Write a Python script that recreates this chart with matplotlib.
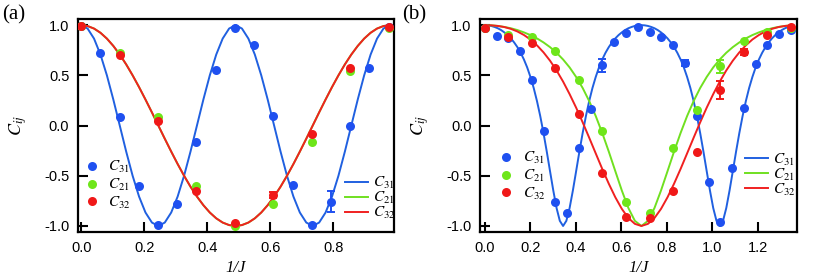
import numpy as np
import matplotlib
matplotlib.use("Agg")
import matplotlib.pyplot as plt
from matplotlib.lines import Line2D

plt.rcParams['font.family'] = ['Liberation Sans', 'DejaVu Sans']
plt.rcParams['mathtext.fontset'] = 'stix'
plt.rcParams['axes.unicode_minus'] = False

# ---------- Colores ----------
c_blue, c_green, c_red = '#1f50f0', '#6ee61a', '#f01818'
l_blue, l_green, l_red = '#2060e0', '#70e020', '#f02020'

# ---------- Datos panel (a) ----------
x_a = [0.0, 0.061, 0.122, 0.183, 0.244, 0.305, 0.366, 0.427, 0.488, 0.549,
       0.610, 0.671, 0.732, 0.793, 0.854, 0.915, 0.976]
c31_a = [0.99, 0.718, 0.085, -0.605, -0.99, -0.778, -0.16, 0.552, 0.967, 0.80,
         0.095, -0.59, -0.99, -0.76, 0.0, 0.575, 0.977]
c31_a_err = [0, 0, 0, 0, 0, 0, 0, 0, 0, 0, 0, 0, 0, 0.105, 0, 0, 0]

x2_a = [0.0, 0.122, 0.244, 0.366, 0.488, 0.610, 0.732, 0.854, 0.976]
c21_a = [0.99, 0.72, 0.09, -0.60, -1.0, -0.78, -0.16, 0.54, 0.967]
c32_a = [0.99, 0.705, 0.047, -0.65, -0.973, -0.69, -0.085, 0.57, 0.977]
c32_a_err = [0, 0, 0, 0, 0, 0.03, 0, 0, 0]

# curvas teóricas (a), muestreadas sobre 0..0.98
t_a = np.linspace(0, 0.98, 49)
fit31_a = [1.0, 0.966, 0.866, 0.707, 0.5, 0.259, 0.0, -0.259, -0.5, -0.707, -0.866, -0.966, -1.0,
           -0.966, -0.866, -0.707, -0.5, -0.259, 0.0, 0.259, 0.5, 0.707, 0.866, 0.966, 1.0,
           0.966, 0.866, 0.707, 0.5, 0.259, 0.0, -0.259, -0.5, -0.707, -0.866, -0.966, -1.0,
           -0.966, -0.866, -0.707, -0.5, -0.259, 0.0, 0.259, 0.5, 0.707, 0.866, 0.966, 1.0]
fit21_a = [1.0, 0.991, 0.966, 0.924, 0.866, 0.793, 0.707, 0.609, 0.5, 0.383, 0.259, 0.131, 0.0,
           -0.131, -0.259, -0.383, -0.5, -0.609, -0.707, -0.793, -0.866, -0.924, -0.966, -0.991, -1.0,
           -0.991, -0.966, -0.924, -0.866, -0.793, -0.707, -0.609, -0.5, -0.383, -0.259, -0.131, 0.0,
           0.131, 0.259, 0.383, 0.5, 0.609, 0.707, 0.793, 0.866, 0.924, 0.966, 0.991, 1.0]
fit32_a = list(fit21_a)  # misma curva que C21

# ---------- Datos panel (b) ----------
x_b = [0.0, 0.052, 0.103, 0.155, 0.207, 0.259, 0.310, 0.362, 0.414, 0.465, 0.517, 0.569, 0.620,
       0.672, 0.724, 0.776, 0.827, 0.879, 0.931, 0.983, 1.034, 1.086, 1.138, 1.190, 1.241, 1.293, 1.345]
c31_b = [0.97, 0.894, 0.87, 0.738, 0.453, -0.052, -0.764, -0.874, -0.227, 0.161, 0.602, 0.834, 0.924,
         0.977, 0.934, 0.884, 0.80, 0.625, 0.095, -0.559, -0.957, -0.426, 0.171, 0.609, 0.80, 0.907, 0.95]
c31_b_err = [0, 0, 0, 0, 0, 0, 0, 0, 0, 0, 0.065, 0, 0, 0, 0, 0, 0, 0.03, 0, 0, 0, 0, 0, 0, 0, 0, 0]

x2_b = [0.0, 0.103, 0.207, 0.310, 0.414, 0.517, 0.620, 0.724, 0.827, 0.931, 1.034, 1.138, 1.241, 1.345]
c21_b = [0.967, 0.90, 0.88, 0.741, 0.453, -0.052, -0.764, -0.874, -0.227, 0.154, 0.592, 0.844, 0.93, 0.97]
c21_b_err = [0, 0, 0, 0, 0, 0, 0, 0, 0, 0, 0.065, 0, 0, 0]
c32_b = [0.97, 0.877, 0.818, 0.569, 0.114, -0.476, -0.913, -0.924, -0.652, -0.26, 0.353, 0.735, 0.90, 0.977]
c32_b_err = [0, 0, 0, 0, 0, 0, 0, 0, 0, 0, 0.093, 0.03, 0, 0]

# curvas teóricas (b)
t_b = np.linspace(0, 1.376, 49)[:48]
fit21_b = [1.0, 0.998, 0.992, 0.982, 0.969, 0.951, 0.928, 0.901, 0.868, 0.828, 0.781, 0.725, 0.658,
           0.579, 0.484, 0.374, 0.244, 0.095, -0.074, -0.259, -0.454, -0.647, -0.821, -0.949, -1.0,
           -0.949, -0.821, -0.647, -0.454, -0.259, -0.074, 0.095, 0.244, 0.374, 0.484, 0.579, 0.658,
           0.725, 0.781, 0.828, 0.868, 0.901, 0.928, 0.951, 0.969, 0.982, 0.992, 0.998]
fit32_b = [1.0, 0.998, 0.992, 0.981, 0.963, 0.937, 0.902, 0.857, 0.799, 0.729, 0.646, 0.549, 0.438,
           0.313, 0.178, 0.032, -0.121, -0.277, -0.432, -0.579, -0.714, -0.830, -0.921, -0.979, -1.0,
           -0.979, -0.921, -0.830, -0.714, -0.579, -0.432, -0.277, -0.121, 0.032, 0.178, 0.313, 0.438,
           0.549, 0.646, 0.729, 0.799, 0.857, 0.902, 0.937, 0.963, 0.981, 0.992, 0.998]
tf_b = np.linspace(0, 1.376, 97)[:95]
fit31_b = [1.0, 0.998, 0.992, 0.982, 0.969, 0.951, 0.928, 0.901, 0.868, 0.828, 0.781, 0.725, 0.658,
           0.579, 0.484, 0.374, 0.244, 0.095, -0.074, -0.259, -0.454, -0.647, -0.821, -0.949, -1.0,
           -0.949, -0.821, -0.647, -0.454, -0.259, -0.074, 0.095, 0.244, 0.374, 0.484, 0.579, 0.658,
           0.725, 0.781, 0.828, 0.868, 0.901, 0.928, 0.951, 0.969, 0.982, 0.992, 0.998, 1.0,
           0.998, 0.992, 0.982, 0.969, 0.951, 0.928, 0.901, 0.868, 0.828, 0.781, 0.725, 0.658,
           0.579, 0.484, 0.374, 0.244, 0.095, -0.074, -0.259, -0.454, -0.647, -0.821, -0.949, -1.0,
           -0.949, -0.821, -0.647, -0.454, -0.259, -0.074, 0.095, 0.244, 0.374, 0.484, 0.579, 0.658,
           0.725, 0.781, 0.828, 0.868, 0.901, 0.928, 0.951, 0.969, 0.982, 0.992]

labels = ['$C_{31}$', '$C_{21}$', '$C_{32}$']


def puntos(ax, x, y, err, color):
    x = np.asarray(x)
    y = np.asarray(y)
    ax.plot(x, y, 'o', color=color, ms=6.5, mec='none', zorder=3)
    if err is not None:
        e = np.asarray(err)
        m = e > 0
        ax.errorbar(x[m], y[m], yerr=e[m], fmt='none', ecolor=color,
                    elinewidth=1.4, capsize=3, capthick=1.4, zorder=3)


def estilo(ax, xticks, xlim):
    for s in ax.spines.values():
        s.set_linewidth(1.6)
    ax.tick_params(direction='in', length=7, width=1.5, labelsize=10.5, pad=6,
                   top=False, right=False)
    ax.set_xticks(xticks)
    ax.set_xticklabels(['%.1f' % v for v in xticks])
    ax.set_yticks([-1.0, -0.5, 0.0, 0.5, 1.0])
    ax.set_yticklabels(['-1.0', '-0.5', '0.0', '0.5', '1.0'])
    ax.set_xlim(*xlim)
    ax.set_ylim(-1.063, 1.057)
    ax.set_xlabel('1/J', family='Liberation Serif', style='italic', fontsize=12, labelpad=4)
    ax.set_ylabel('$C_{ij}$', fontsize=13, labelpad=11)


def leyendas(ax, dot_anchor, line_anchor):
    dots = [Line2D([], [], ls='none', marker='o', ms=6.5, mec='none', color=c)
            for c in (c_blue, c_green, c_red)]
    lines = [Line2D([], [], lw=1.4, color=c) for c in (l_blue, l_green, l_red)]
    leg1 = ax.legend(dots, labels, loc='lower left', bbox_to_anchor=dot_anchor,
                     frameon=False, fontsize=11, handlelength=1.0, handletextpad=0.6,
                     labelspacing=0.1, borderpad=0, borderaxespad=0)
    ax.add_artist(leg1)
    ax.legend(lines, labels, loc='lower left', bbox_to_anchor=line_anchor,
              frameon=False, fontsize=11, handlelength=1.5, handletextpad=0.35,
              labelspacing=-0.07, borderpad=0, borderaxespad=0)


fig = plt.figure(figsize=(8.31, 2.79), dpi=100)
ax_a = fig.add_axes([0.0935, 0.1674, 0.381, 0.763])
ax_b = fig.add_axes([0.5773, 0.1674, 0.382, 0.763])

# ---------- Panel (a) ----------
ax_a.plot(t_a, fit31_a, color=l_blue, lw=1.4, zorder=2)
ax_a.plot(t_a, fit21_a, color=l_green, lw=1.4, zorder=2)
ax_a.plot(t_a, fit32_a, color=l_red, lw=1.4, zorder=2)
puntos(ax_a, x_a, c31_a, c31_a_err, c_blue)
puntos(ax_a, x2_a, c21_a, None, c_green)
puntos(ax_a, x2_a, c32_a, c32_a_err, c_red)
estilo(ax_a, [0.0, 0.2, 0.4, 0.6, 0.8], (-0.011, 0.994))
leyendas(ax_a, (0.02, 0.102), (0.844, 0.053))

# ---------- Panel (b) ----------
ax_b.plot(tf_b, fit31_b, color=l_blue, lw=1.4, zorder=2)
ax_b.plot(t_b, fit21_b, color=l_green, lw=1.4, zorder=2)
ax_b.plot(t_b, fit32_b, color=l_red, lw=1.4, zorder=2)
puntos(ax_b, x_b, c31_b, c31_b_err, c_blue)
puntos(ax_b, x2_b, c21_b, c21_b_err, c_green)
puntos(ax_b, x2_b, c32_b, c32_b_err, c_red)
estilo(ax_b, [0.0, 0.2, 0.4, 0.6, 0.8, 1.0, 1.2], (-0.022, 1.372))
leyendas(ax_b, (0.059, 0.144), (0.835, 0.163))

fig.text(0.002, 0.945, '(a)', family='Liberation Serif', fontsize=15, va='center')
fig.text(0.484, 0.945, '(b)', family='Liberation Serif', fontsize=15, va='center')

fig.savefig('out.png', dpi=100)
